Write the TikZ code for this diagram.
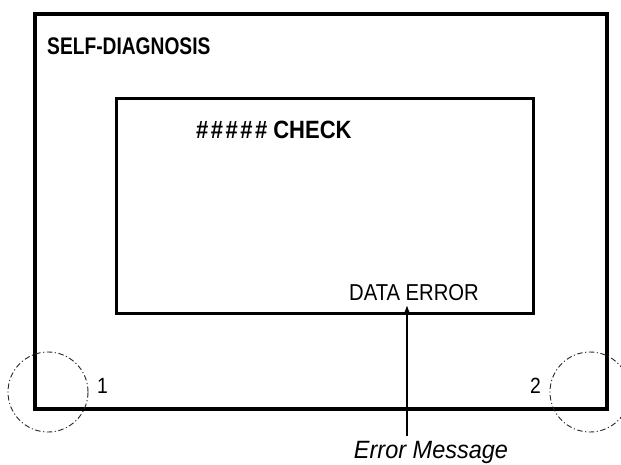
\documentclass[tikz,border=0pt]{standalone}
\usepackage{fontspec}
\usetikzlibrary{arrows.meta}
\setmainfont{Liberation Sans}
\newfontfamily\narrowfont[FakeStretch=0.8]{Liberation Sans}
\newfontfamily\midfont[FakeStretch=0.88]{Liberation Sans}
\newfontfamily\wideitfont[FakeStretch=0.94]{Liberation Sans}
\begin{document}
\begin{tikzpicture}[x=1pt,y=-1pt,
  frame/.style={draw=black,line width=3.5pt},
  innerframe/.style={draw=black,line width=2.8pt},
  zone/.style={draw=black!85,line width=0.9pt,dash pattern=on 5.5pt off 2.5pt on 1.2pt off 2.5pt},
  lbl/.style={inner sep=0pt,anchor=base west},
  ptr/.style={draw=black,line width=1.1pt,-{Latex[length=8pt,width=6pt]}}]
\useasboundingbox (0,0) rectangle (621,464);
\clip (0,0) rectangle (621,464);
\node[frame,minimum width=572pt,minimum height=395pt,anchor=north west] (outer) at (33,12) {};
\node[innerframe,minimum width=417pt,minimum height=215pt,anchor=north west] (inner) at (115,97) {};
\node[lbl] (title) at (47,54) {\fontsize{24}{28}\selectfont\bfseries\narrowfont SELF-DIAGNOSIS};
\node[lbl] (check) at (196,138) {\fontsize{25}{28}\selectfont\bfseries\midfont \#\kern2.5pt\#\kern2.5pt\#\kern2.5pt\#\kern2.5pt\#\kern6pt CHECK};
\node[lbl,anchor=base] (err) at (414,300) {\fontsize{23}{27}\selectfont\midfont DATA ERROR};
\node[lbl,anchor=base] (msg) at (431,458) {\fontsize{25}{29}\selectfont\itshape\wideitfont Error Message};
\node[circle,zone,minimum size=80pt] (c1) at (48,392) {};
\node[circle,zone,minimum size=80pt] (c2) at (590,392) {};
\node[lbl] (n1) at (97,393) {\fontsize{22}{26}\selectfont\midfont 1};
\node[lbl] (n2) at (530,393) {\fontsize{22}{26}\selectfont\midfont 2};
\coordinate (tail) at (407,436);
\draw[ptr] (tail) -- (407,305);
\end{tikzpicture}
\end{document}
